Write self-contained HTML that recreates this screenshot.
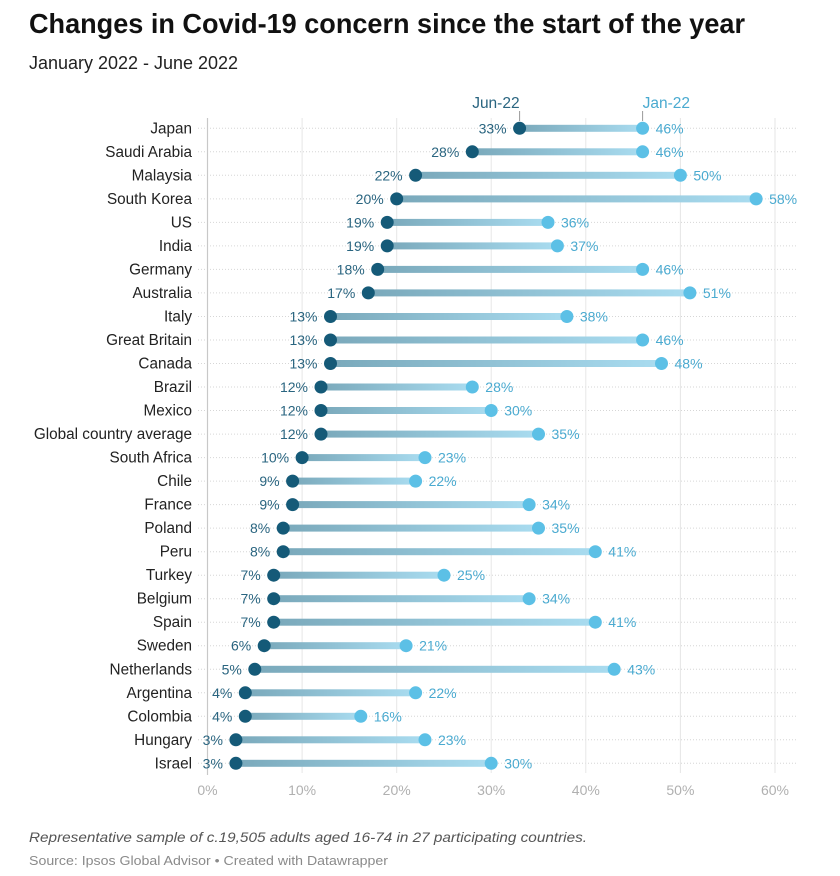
<!DOCTYPE html>
<html><head><meta charset="utf-8"><style>
html,body{margin:0;padding:0;background:#fff;width:840px;height:876px;overflow:hidden}
svg{display:block;font-family:"Liberation Sans",Arial,sans-serif}
.c{font-size:15.3px;fill:#222;text-anchor:end}
.d{font-size:14px;fill:#2a6580;text-anchor:end}
.l{font-size:14px;fill:#4aaad0}
.t{font-size:14px;fill:#b0b0b0;text-anchor:middle}
</style></head><body>
<svg width="840" height="876" viewBox="0 0 840 876" xmlns="http://www.w3.org/2000/svg">
<defs><linearGradient id="g" x1="0" y1="0" x2="1" y2="0"><stop offset="0" stop-color="#7aa9bb"/><stop offset="1" stop-color="#a9dcf0"/></linearGradient></defs>
<text x="29" y="33" font-size="28" font-weight="bold" fill="#111" textLength="716" lengthAdjust="spacingAndGlyphs">Changes in Covid-19 concern since the start of the year</text>
<text x="29" y="69" font-size="18" fill="#222" textLength="209" lengthAdjust="spacingAndGlyphs">January 2022 - June 2022</text>
<g stroke="#d6d6d6" stroke-width="1" stroke-dasharray="1,2">
<line x1="198" x2="798" y1="128.3" y2="128.3"/><line x1="198" x2="798" y1="151.8" y2="151.8"/><line x1="198" x2="798" y1="175.3" y2="175.3"/><line x1="198" x2="798" y1="198.9" y2="198.9"/><line x1="198" x2="798" y1="222.4" y2="222.4"/><line x1="198" x2="798" y1="245.9" y2="245.9"/><line x1="198" x2="798" y1="269.4" y2="269.4"/><line x1="198" x2="798" y1="292.9" y2="292.9"/><line x1="198" x2="798" y1="316.5" y2="316.5"/><line x1="198" x2="798" y1="340" y2="340"/><line x1="198" x2="798" y1="363.5" y2="363.5"/><line x1="198" x2="798" y1="387" y2="387"/><line x1="198" x2="798" y1="410.5" y2="410.5"/><line x1="198" x2="798" y1="434.1" y2="434.1"/><line x1="198" x2="798" y1="457.6" y2="457.6"/><line x1="198" x2="798" y1="481.1" y2="481.1"/><line x1="198" x2="798" y1="504.6" y2="504.6"/><line x1="198" x2="798" y1="528.1" y2="528.1"/><line x1="198" x2="798" y1="551.7" y2="551.7"/><line x1="198" x2="798" y1="575.2" y2="575.2"/><line x1="198" x2="798" y1="598.7" y2="598.7"/><line x1="198" x2="798" y1="622.2" y2="622.2"/><line x1="198" x2="798" y1="645.7" y2="645.7"/><line x1="198" x2="798" y1="669.3" y2="669.3"/><line x1="198" x2="798" y1="692.8" y2="692.8"/><line x1="198" x2="798" y1="716.3" y2="716.3"/><line x1="198" x2="798" y1="739.8" y2="739.8"/><line x1="198" x2="798" y1="763.3" y2="763.3"/>
</g>
<g stroke="#e6e6e6" stroke-width="1">
<line x1="302.1" x2="302.1" y1="118" y2="773"/><line x1="396.7" x2="396.7" y1="118" y2="773"/><line x1="491.2" x2="491.2" y1="118" y2="773"/><line x1="585.8" x2="585.8" y1="118" y2="773"/><line x1="680.4" x2="680.4" y1="118" y2="773"/><line x1="775" x2="775" y1="118" y2="773"/>
</g>
<line x1="207.5" x2="207.5" y1="118" y2="775" stroke="#c8c8c8" stroke-width="1.2"/>
<g>
<text class="t" x="207.5" y="795">0%</text><text class="t" x="302.1" y="795">10%</text><text class="t" x="396.7" y="795">20%</text><text class="t" x="491.2" y="795">30%</text><text class="t" x="585.8" y="795">40%</text><text class="t" x="680.4" y="795">50%</text><text class="t" x="775" y="795">60%</text>
</g>
<text x="519.6" y="108" font-size="15.5" fill="#2a6580" text-anchor="end">Jun-22</text>
<line x1="519.6" x2="519.6" y1="111" y2="121" stroke="#999" stroke-width="1"/>
<text x="642.6" y="108" font-size="15.5" fill="#4aaad0">Jan-22</text>
<line x1="642.6" x2="642.6" y1="111" y2="121" stroke="#999" stroke-width="1"/>

<g id="rows">
<text class="c" x="192" y="133.3">Japan</text><rect x="519.6" y="124.8" width="123" height="7" fill="url(#g)"/><circle cx="519.6" cy="128.3" r="6.5" fill="#155a78"/><circle cx="642.6" cy="128.3" r="6.5" fill="#5cc0e6"/><text class="d" x="506.6" y="133.3">33%</text><text class="l" x="655.6" y="133.3">46%</text>
<text class="c" x="192" y="156.8">Saudi Arabia</text><rect x="472.3" y="148.3" width="170.3" height="7" fill="url(#g)"/><circle cx="472.3" cy="151.8" r="6.5" fill="#155a78"/><circle cx="642.6" cy="151.8" r="6.5" fill="#5cc0e6"/><text class="d" x="459.3" y="156.8">28%</text><text class="l" x="655.6" y="156.8">46%</text>
<text class="c" x="192" y="180.3">Malaysia</text><rect x="415.6" y="171.8" width="264.8" height="7" fill="url(#g)"/><circle cx="415.6" cy="175.3" r="6.5" fill="#155a78"/><circle cx="680.4" cy="175.3" r="6.5" fill="#5cc0e6"/><text class="d" x="402.6" y="180.3">22%</text><text class="l" x="693.4" y="180.3">50%</text>
<text class="c" x="192" y="203.9">South Korea</text><rect x="396.7" y="195.4" width="359.4" height="7" fill="url(#g)"/><circle cx="396.7" cy="198.9" r="6.5" fill="#155a78"/><circle cx="756.1" cy="198.9" r="6.5" fill="#5cc0e6"/><text class="d" x="383.7" y="203.9">20%</text><text class="l" x="769.1" y="203.9">58%</text>
<text class="c" x="192" y="227.4">US</text><rect x="387.2" y="218.9" width="160.8" height="7" fill="url(#g)"/><circle cx="387.2" cy="222.4" r="6.5" fill="#155a78"/><circle cx="548" cy="222.4" r="6.5" fill="#5cc0e6"/><text class="d" x="374.2" y="227.4">19%</text><text class="l" x="561" y="227.4">36%</text>
<text class="c" x="192" y="250.9">India</text><rect x="387.2" y="242.4" width="170.2" height="7" fill="url(#g)"/><circle cx="387.2" cy="245.9" r="6.5" fill="#155a78"/><circle cx="557.4" cy="245.9" r="6.5" fill="#5cc0e6"/><text class="d" x="374.2" y="250.9">19%</text><text class="l" x="570.4" y="250.9">37%</text>
<text class="c" x="192" y="274.4">Germany</text><rect x="377.7" y="265.9" width="264.9" height="7" fill="url(#g)"/><circle cx="377.7" cy="269.4" r="6.5" fill="#155a78"/><circle cx="642.6" cy="269.4" r="6.5" fill="#5cc0e6"/><text class="d" x="364.7" y="274.4">18%</text><text class="l" x="655.6" y="274.4">46%</text>
<text class="c" x="192" y="297.9">Australia</text><rect x="368.3" y="289.4" width="321.6" height="7" fill="url(#g)"/><circle cx="368.3" cy="292.9" r="6.5" fill="#155a78"/><circle cx="689.9" cy="292.9" r="6.5" fill="#5cc0e6"/><text class="d" x="355.3" y="297.9">17%</text><text class="l" x="702.9" y="297.9">51%</text>
<text class="c" x="192" y="321.5">Italy</text><rect x="330.5" y="313" width="236.4" height="7" fill="url(#g)"/><circle cx="330.5" cy="316.5" r="6.5" fill="#155a78"/><circle cx="566.9" cy="316.5" r="6.5" fill="#5cc0e6"/><text class="d" x="317.5" y="321.5">13%</text><text class="l" x="579.9" y="321.5">38%</text>
<text class="c" x="192" y="345">Great Britain</text><rect x="330.5" y="336.5" width="312.1" height="7" fill="url(#g)"/><circle cx="330.5" cy="340" r="6.5" fill="#155a78"/><circle cx="642.6" cy="340" r="6.5" fill="#5cc0e6"/><text class="d" x="317.5" y="345">13%</text><text class="l" x="655.6" y="345">46%</text>
<text class="c" x="192" y="368.5">Canada</text><rect x="330.5" y="360" width="331" height="7" fill="url(#g)"/><circle cx="330.5" cy="363.5" r="6.5" fill="#155a78"/><circle cx="661.5" cy="363.5" r="6.5" fill="#5cc0e6"/><text class="d" x="317.5" y="368.5">13%</text><text class="l" x="674.5" y="368.5">48%</text>
<text class="c" x="192" y="392">Brazil</text><rect x="321" y="383.5" width="151.3" height="7" fill="url(#g)"/><circle cx="321" cy="387" r="6.5" fill="#155a78"/><circle cx="472.3" cy="387" r="6.5" fill="#5cc0e6"/><text class="d" x="308" y="392">12%</text><text class="l" x="485.3" y="392">28%</text>
<text class="c" x="192" y="415.5">Mexico</text><rect x="321" y="407" width="170.2" height="7" fill="url(#g)"/><circle cx="321" cy="410.5" r="6.5" fill="#155a78"/><circle cx="491.2" cy="410.5" r="6.5" fill="#5cc0e6"/><text class="d" x="308" y="415.5">12%</text><text class="l" x="504.2" y="415.5">30%</text>
<text class="c" x="192" y="439.1">Global country average</text><rect x="321" y="430.6" width="217.5" height="7" fill="url(#g)"/><circle cx="321" cy="434.1" r="6.5" fill="#155a78"/><circle cx="538.5" cy="434.1" r="6.5" fill="#5cc0e6"/><text class="d" x="308" y="439.1">12%</text><text class="l" x="551.5" y="439.1">35%</text>
<text class="c" x="192" y="462.6">South Africa</text><rect x="302.1" y="454.1" width="122.9" height="7" fill="url(#g)"/><circle cx="302.1" cy="457.6" r="6.5" fill="#155a78"/><circle cx="425" cy="457.6" r="6.5" fill="#5cc0e6"/><text class="d" x="289.1" y="462.6">10%</text><text class="l" x="438" y="462.6">23%</text>
<text class="c" x="192" y="486.1">Chile</text><rect x="292.6" y="477.6" width="123" height="7" fill="url(#g)"/><circle cx="292.6" cy="481.1" r="6.5" fill="#155a78"/><circle cx="415.6" cy="481.1" r="6.5" fill="#5cc0e6"/><text class="d" x="279.6" y="486.1">9%</text><text class="l" x="428.6" y="486.1">22%</text>
<text class="c" x="192" y="509.6">France</text><rect x="292.6" y="501.1" width="236.5" height="7" fill="url(#g)"/><circle cx="292.6" cy="504.6" r="6.5" fill="#155a78"/><circle cx="529.1" cy="504.6" r="6.5" fill="#5cc0e6"/><text class="d" x="279.6" y="509.6">9%</text><text class="l" x="542.1" y="509.6">34%</text>
<text class="c" x="192" y="533.1">Poland</text><rect x="283.2" y="524.6" width="255.3" height="7" fill="url(#g)"/><circle cx="283.2" cy="528.1" r="6.5" fill="#155a78"/><circle cx="538.5" cy="528.1" r="6.5" fill="#5cc0e6"/><text class="d" x="270.2" y="533.1">8%</text><text class="l" x="551.5" y="533.1">35%</text>
<text class="c" x="192" y="556.7">Peru</text><rect x="283.2" y="548.2" width="312.1" height="7" fill="url(#g)"/><circle cx="283.2" cy="551.7" r="6.5" fill="#155a78"/><circle cx="595.3" cy="551.7" r="6.5" fill="#5cc0e6"/><text class="d" x="270.2" y="556.7">8%</text><text class="l" x="608.3" y="556.7">41%</text>
<text class="c" x="192" y="580.2">Turkey</text><rect x="273.7" y="571.7" width="170.3" height="7" fill="url(#g)"/><circle cx="273.7" cy="575.2" r="6.5" fill="#155a78"/><circle cx="444" cy="575.2" r="6.5" fill="#5cc0e6"/><text class="d" x="260.7" y="580.2">7%</text><text class="l" x="457" y="580.2">25%</text>
<text class="c" x="192" y="603.7">Belgium</text><rect x="273.7" y="595.2" width="255.4" height="7" fill="url(#g)"/><circle cx="273.7" cy="598.7" r="6.5" fill="#155a78"/><circle cx="529.1" cy="598.7" r="6.5" fill="#5cc0e6"/><text class="d" x="260.7" y="603.7">7%</text><text class="l" x="542.1" y="603.7">34%</text>
<text class="c" x="192" y="627.2">Spain</text><rect x="273.7" y="618.7" width="321.6" height="7" fill="url(#g)"/><circle cx="273.7" cy="622.2" r="6.5" fill="#155a78"/><circle cx="595.3" cy="622.2" r="6.5" fill="#5cc0e6"/><text class="d" x="260.7" y="627.2">7%</text><text class="l" x="608.3" y="627.2">41%</text>
<text class="c" x="192" y="650.7">Sweden</text><rect x="264.2" y="642.2" width="141.9" height="7" fill="url(#g)"/><circle cx="264.2" cy="645.7" r="6.5" fill="#155a78"/><circle cx="406.1" cy="645.7" r="6.5" fill="#5cc0e6"/><text class="d" x="251.2" y="650.7">6%</text><text class="l" x="419.1" y="650.7">21%</text>
<text class="c" x="192" y="674.3">Netherlands</text><rect x="254.8" y="665.8" width="359.4" height="7" fill="url(#g)"/><circle cx="254.8" cy="669.3" r="6.5" fill="#155a78"/><circle cx="614.2" cy="669.3" r="6.5" fill="#5cc0e6"/><text class="d" x="241.8" y="674.3">5%</text><text class="l" x="627.2" y="674.3">43%</text>
<text class="c" x="192" y="697.8">Argentina</text><rect x="245.3" y="689.3" width="170.3" height="7" fill="url(#g)"/><circle cx="245.3" cy="692.8" r="6.5" fill="#155a78"/><circle cx="415.6" cy="692.8" r="6.5" fill="#5cc0e6"/><text class="d" x="232.3" y="697.8">4%</text><text class="l" x="428.6" y="697.8">22%</text>
<text class="c" x="192" y="721.3">Colombia</text><rect x="245.3" y="712.8" width="115.5" height="7" fill="url(#g)"/><circle cx="245.3" cy="716.3" r="6.5" fill="#155a78"/><circle cx="360.8" cy="716.3" r="6.5" fill="#5cc0e6"/><text class="d" x="232.3" y="721.3">4%</text><text class="l" x="373.8" y="721.3">16%</text>
<text class="c" x="192" y="744.8">Hungary</text><rect x="235.9" y="736.3" width="189.1" height="7" fill="url(#g)"/><circle cx="235.9" cy="739.8" r="6.5" fill="#155a78"/><circle cx="425" cy="739.8" r="6.5" fill="#5cc0e6"/><text class="d" x="222.9" y="744.8">3%</text><text class="l" x="438" y="744.8">23%</text>
<text class="c" x="192" y="768.3">Israel</text><rect x="235.9" y="759.8" width="255.3" height="7" fill="url(#g)"/><circle cx="235.9" cy="763.3" r="6.5" fill="#155a78"/><circle cx="491.2" cy="763.3" r="6.5" fill="#5cc0e6"/><text class="d" x="222.9" y="768.3">3%</text><text class="l" x="504.2" y="768.3">30%</text>
</g>

<text x="29" y="842" font-size="14" font-style="italic" fill="#555" textLength="558" lengthAdjust="spacingAndGlyphs">Representative sample of c.19,505 adults aged 16-74 in 27 participating countries.</text>
<text x="29" y="865" font-size="13" fill="#8a8a8a" textLength="359" lengthAdjust="spacingAndGlyphs">Source: Ipsos Global Advisor • Created with Datawrapper</text>
</svg>
</body></html>
